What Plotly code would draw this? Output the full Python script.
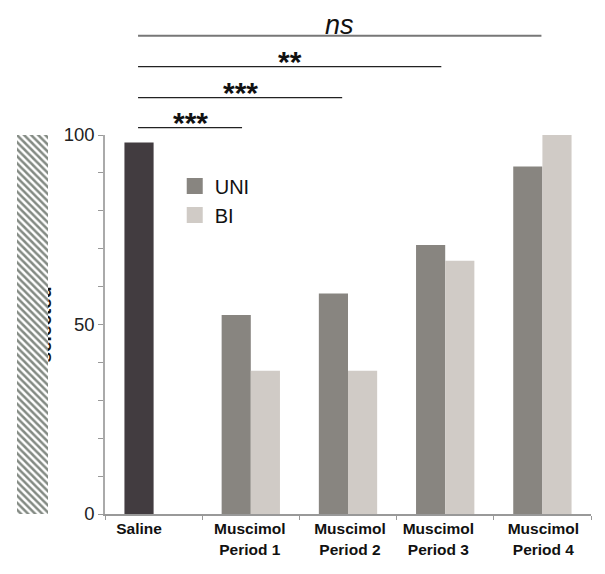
import plotly.graph_objects as go

# data
groups = ["Saline", "Muscimol<br>Period 1", "Muscimol<br>Period 2",
          "Muscimol<br>Period 3", "Muscimol<br>Period 4"]
saline = [98]
uni = [52.5, 58.2, 71.0, 91.7]
bi = [37.8, 37.8, 66.8, 100]
sig_labels = ["***", "***", "**", "<i>ns</i>"]

# layout: one unit per category, bars around the category centre
xpos = [i + 0.5 for i in range(len(groups))]
label_shift = [-0.15, -0.01, 0.02, -0.07, 0.01]
sig_start = 0.34
sig_ends = [1.41, 2.44, 3.46, 4.49]
sig_y = [1.0193, 1.0984, 1.1802, 1.262]

fig = go.Figure()

fig.add_trace(go.Bar(
    x=xpos[:1], y=saline, width=0.3, offset=-0.3, name="Saline",
    marker=dict(color="#423c40", line=dict(width=0)), showlegend=False
))
fig.add_trace(go.Bar(
    x=xpos[1:], y=uni, width=0.3, offset=-0.3, name="UNI",
    marker=dict(color="#888580", line=dict(width=0)), showlegend=False
))
fig.add_trace(go.Bar(
    x=xpos[1:], y=bi, width=0.3, offset=0, name="BI",
    marker=dict(color="#d0cbc6", line=dict(width=0)), showlegend=False
))

# legend entries with bigger square swatches
for name, col in [("UNI", "#888580"), ("BI", "#d0cbc6")]:
    fig.add_trace(go.Scatter(
        x=[None], y=[None], mode="markers", name=name,
        marker=dict(symbol="square", size=16, color=col)
    ))

# y-axis title, mostly hidden under the hatched block drawn after it
fig.add_trace(go.Bar(
    x=[27], y=[1], width=20, xaxis="x2", yaxis="y2", showlegend=False,
    marker=dict(color="rgba(0,0,0,0)", line=dict(width=0)),
    text=["<b>selected</b>"], textposition="inside", textangle=-90,
    insidetextanchor="middle", constraintext="none",
    textfont=dict(size=19, color="#111", family="Arial"), hoverinfo="skip"
))
fig.add_trace(go.Bar(
    x=[15.5], y=[1], width=31, xaxis="x2", yaxis="y2", showlegend=False,
    marker=dict(color="white", line=dict(width=0),
                pattern=dict(shape="\\", fgcolor="#081608", bgcolor="white",
                             size=5, solidity=0.5)),
    hoverinfo="skip"
))

for end, yy, lab in zip(sig_ends, sig_y, sig_labels):
    is_ns = lab == "<i>ns</i>"
    fig.add_shape(type="line", xref="x", yref="paper",
                  x0=sig_start, x1=end, y0=yy, y1=yy,
                  line=dict(color="#777" if is_ns else "#222", width=2 if is_ns else 1.2))
    fig.add_annotation(x=(sig_start + end) / 2, y=yy, xref="x", yref="paper",
                       text=lab if is_ns else "<b>" + lab + "</b>",
                       showarrow=False, yanchor="bottom",
                       yshift=-6 if is_ns else -13,
                       font=dict(size=27 if is_ns else 30, color="#111", family="Arial"))

fig.update_layout(
    width=597, height=566,
    paper_bgcolor="white", plot_bgcolor="white",
    margin=dict(l=0, r=14, t=127, b=60),
    barmode="overlay",
    font=dict(family="Arial", color="#111"),
    legend=dict(x=0.286, y=0.917, xanchor="left", yanchor="top",
                font=dict(size=20, family="Arial", color="#111"),
                bgcolor="rgba(0,0,0,0)", tracegroupgap=0),
    xaxis=dict(domain=[97 / 583, 1], range=[0, 5], showgrid=False, zeroline=False,
               showline=True, linecolor="#999", linewidth=1.5,
               tickmode="array", tickvals=[p + s for p, s in zip(xpos, label_shift)],
               ticktext=["<b>" + g + "</b>" for g in groups],
               ticks="", tickfont=dict(size=15.5, color="#111"),
               minor=dict(tick0=0, dtick=1, ticks="outside", ticklen=4,
                          tickcolor="#999", showgrid=False)),
    yaxis=dict(range=[0, 100], showgrid=False, zeroline=False,
               showline=True, linecolor="#aaa", linewidth=1.5,
               tickvals=[0, 50, 100], ticks="outside", ticklen=5, tickcolor="#999",
               tickfont=dict(size=18.5, color="#222"),
               minor=dict(dtick=10, ticks="outside", ticklen=5, tickcolor="#999",
                          showgrid=False)),
    xaxis2=dict(domain=[9 / 583, 52 / 583], range=[0, 43], visible=False),
    yaxis2=dict(anchor="x2", range=[0, 1], visible=False),
)

fig.write_html("out.html")
